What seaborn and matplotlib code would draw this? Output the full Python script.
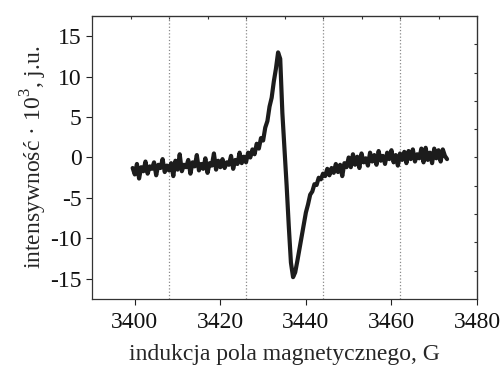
import numpy as np
import pandas as pd
import matplotlib
matplotlib.use('Agg')
import matplotlib.pyplot as plt
import seaborn as sns

# EPR spectrum
field_start = 3399.5   # G
field_step = 0.5       # G
signal = [
    # baseline, low field side
    -1.3, -2.1, -0.8, -2.6, -1.2, -1.7, -0.5, -2.0, -1.1, -1.4,
    -0.6, -2.2, -0.9, -1.3, -0.2, -1.8, -1.0, -1.6, -0.7, -2.3,
    -0.4, -1.5, 0.4, -1.7, -0.9, -1.2, -0.3, -2.0, -0.6, -1.1,
    0.3, -1.6, -0.8, -1.4, -0.1, -1.9, -0.7, -1.0, 0.5, -1.5,
    -0.4, -1.2, -0.2, -1.3, -0.6, -0.9, 0.2, -1.4, -0.3, -0.8,
    0.6, -0.7, 0.1,
    # rise to the positive peak
    -0.6, 0.6, 0.0, 1.0, 0.4, 1.7, 1.1, 2.4, 2.1, 3.7,
    4.5, 6.3, 7.4, 9.4, 11.0, 13.0, 12.2,
    # crossing and negative peak
    5.5, 1.0, -3.5, -8.5, -13.0, -14.8, -14.2, -12.8, -11.3, -9.8,
    -8.3, -6.8, -5.8, -4.6, -4.2, -3.3, -3.4, -2.5, -2.7, -2.0,
    -2.3, -1.4, -2.2, -1.3, -1.9, -0.8, -1.8, -0.9, -2.3, -0.7,
    -1.2,
    # baseline, high field side
    0.0, -1.2, 0.4, -0.9, 0.1, -1.3, 0.5, -0.6, -0.1, -1.0,
    0.6, -0.5, 0.3, -0.9, 0.8, -0.4, 0.2, -0.8, 0.6, -0.2,
    0.9, -0.6, 0.3, -1.0, 0.5, -0.3, 0.7, -0.7, 0.8, -0.2,
    1.0, -0.5, 0.4, -0.1, 1.1, -0.6, 1.2, -0.3, 0.6, -0.7,
    1.1, -0.1, 0.9, -0.5, 1.0, 0.2, -0.2,
]
grid_lines = [3408, 3426, 3444, 3462]
x_ticks = [3400, 3420, 3440, 3460, 3480]
y_ticks = [-15, -10, -5, 0, 5, 10, 15]
top_ticks = np.arange(3390, 3481, 9)
right_ticks = np.arange(-14, 14.1, 3.5)

df = pd.DataFrame({
    'field': field_start + field_step * np.arange(len(signal)),
    'signal': signal,
})

sns.set_style('ticks')
plt.rcParams['font.family'] = ['Liberation Serif', 'DejaVu Serif']
plt.rcParams['mathtext.fontset'] = 'custom'
plt.rcParams['mathtext.rm'] = 'Liberation Serif'
plt.rcParams['axes.unicode_minus'] = False

fig = plt.figure(figsize=(5.02, 3.65), dpi=100)
ax = fig.add_axes([0.1833, 0.1808, 0.7669, 0.7754])

for g in grid_lines:
    ax.axvline(g, color='#8a8a8a', linestyle=':', linewidth=0.9, zorder=1)

sns.lineplot(data=df, x='field', y='signal', ax=ax, color='#1c1c1c',
             linewidth=3.0, sort=False, estimator=None, zorder=3)

ax.set_xlim(3390, 3480)
ax.set_ylim(-17.5, 17.5)
ax.set_xticks(x_ticks)
ax.set_yticks(y_ticks)
ax.tick_params(axis='both', direction='out', length=4.5, width=0.8,
               labelsize=17, color='#222222', labelcolor='#111111')
ax.tick_params(axis='x', pad=5)
ax.tick_params(axis='y', pad=3)

ax.set_xlabel('indukcja pola magnetycznego, G', fontsize=17, labelpad=8)
ax.set_ylabel('intensywność · 10$^{3}$, j.u.', fontsize=17, labelpad=1)

for s in ax.spines.values():
    s.set_visible(True)
    s.set_linewidth(0.9)
    s.set_color('#333333')

# small inward ticks on the top and right frame
top = ax.secondary_xaxis('top')
top.set_xticks(top_ticks)
top.tick_params(direction='in', length=2.5, width=0.8, labeltop=False, color='#333333')
right = ax.secondary_yaxis('right')
right.set_yticks(right_ticks)
right.tick_params(direction='in', length=2.5, width=0.8, labelright=False, color='#333333')

fig.savefig('out.png', dpi=100, facecolor='white')
